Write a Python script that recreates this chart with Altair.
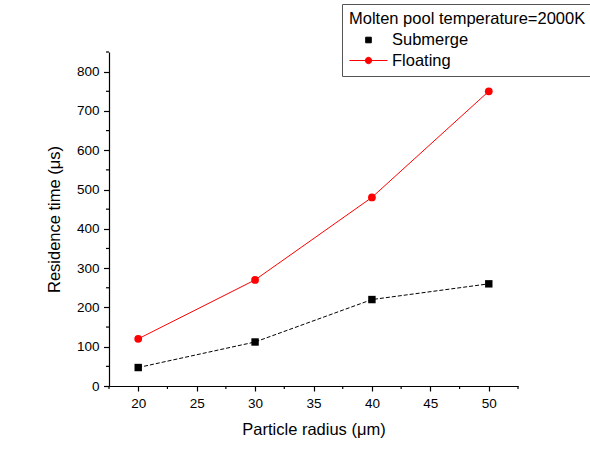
import altair as alt
import pandas as pd

# ---- data ----
radius = [20, 30, 40, 50]
submerge = [47, 112, 220, 260]
floating = [120, 270, 480, 750]
series_names = ["Submerge", "Floating"]
series_colors = ["black", "red"]
x_major = [20, 25, 30, 35, 40, 45, 50]
x_minor = [17.5, 22.5, 27.5, 32.5, 37.5, 42.5, 47.5, 52.5]
y_major = [0, 100, 200, 300, 400, 500, 600, 700, 800]
y_minor = [50, 150, 250, 350, 450, 550, 650, 750, 850]

W, H = 409, 334
FONT = "Liberation Sans"

df = pd.DataFrame({
    "radius": radius * 2,
    "time": submerge + floating,
    "series": [series_names[0]] * len(radius) + [series_names[1]] * len(radius),
})

xs = alt.Scale(domain=[17.5, 52.5], nice=False, zero=False)
ys = alt.Scale(domain=[0, 850], nice=False, zero=True)

xax = alt.Axis(values=x_major, title="Particle radius (μm)", tickSize=5,
               labelPadding=5, titlePadding=12, format="d")
yax = alt.Axis(values=y_major, title="Residence time (μs)", tickSize=5.5,
               labelPadding=4.5, titlePadding=14, format="d")

X = alt.X("radius:Q", scale=xs, axis=xax)
Y = alt.Y("time:Q", scale=ys, axis=yax)

base = alt.Chart(df)

sub = base.transform_filter(alt.datum.series == "Submerge")
flo = base.transform_filter(alt.datum.series == "Floating")

sub_line = sub.mark_line(color="black", strokeWidth=1, strokeDash=[4, 2]).encode(x=X, y=Y)
sub_pts = sub.mark_point(shape="square", filled=True, color="black", size=55, opacity=1).encode(x=X, y=Y)
flo_line = flo.mark_line(color="red", strokeWidth=1).encode(x=X, y=Y)
flo_pts = flo.mark_point(shape="circle", filled=True, color="red", size=60, opacity=1).encode(x=X, y=Y)

# legend-only layer (no marks drawn)
sq_path = "M1.025,-0.35L1.725,-0.35L1.725,0.35L1.025,0.35Z"
ci_path = "M-1,0L3.75,0M1.775,0A0.4,0.4 0 1,1 0.975,0A0.4,0.4 0 1,1 1.775,0Z"
leg = alt.Legend(
    orient="none", legendX=233, legendY=-48,
    title="Molten pool temperature=2000K", titleLimit=400,
    titleFont=FONT, titleFontSize=16.5, titleFontWeight="normal", titleColor="black",
    labelFont=FONT, labelFontSize=16.5, labelColor="black",
    strokeColor="#555555", padding=7, symbolSize=256, symbolOffset=0,
    labelOffset=26, titlePadding=4, rowPadding=3.5, symbolStrokeWidth=1,
)
legend_layer = base.transform_filter(alt.datum.radius < 0).mark_point(filled=True, opacity=1).encode(
    x=X, y=Y,
    fill=alt.Fill("series:N", scale=alt.Scale(domain=series_names, range=series_colors), legend=leg, sort=series_names),
    stroke=alt.Stroke("series:N", scale=alt.Scale(domain=series_names, range=series_colors), legend=leg, sort=series_names),
    shape=alt.Shape("series:N", scale=alt.Scale(domain=series_names, range=[sq_path, ci_path]), legend=leg, sort=series_names),
)

# minor ticks
ymin = alt.Chart(pd.DataFrame({"time": y_minor})).mark_rule(color="black", strokeWidth=1.2).encode(
    y=Y, x=alt.value(0), x2=alt.value(-3))
xmin = alt.Chart(pd.DataFrame({"radius": x_minor})).mark_rule(color="black", strokeWidth=1.2).encode(
    x=X, y=alt.value(H), y2=alt.value(H + 3))

chart = alt.layer(sub_line, flo_line, sub_pts, flo_pts, legend_layer, ymin, xmin).properties(
    width=W, height=H,
    autosize=alt.AutoSizeParams(type="none"),
    padding={"left": 109, "top": 52, "right": 72, "bottom": 70},
    background="white",
).configure_axis(
    labelFont=FONT, titleFont=FONT, labelFontSize=13.5, titleFontSize=16.5,
    titleFontWeight="normal", labelColor="black", titleColor="black",
    domainColor="black", tickColor="black", domainWidth=1.2, tickWidth=1.2, grid=False,
).configure_view(stroke=None)

chart.save("out.html", embed_options={"renderer": "svg", "actions": False})
